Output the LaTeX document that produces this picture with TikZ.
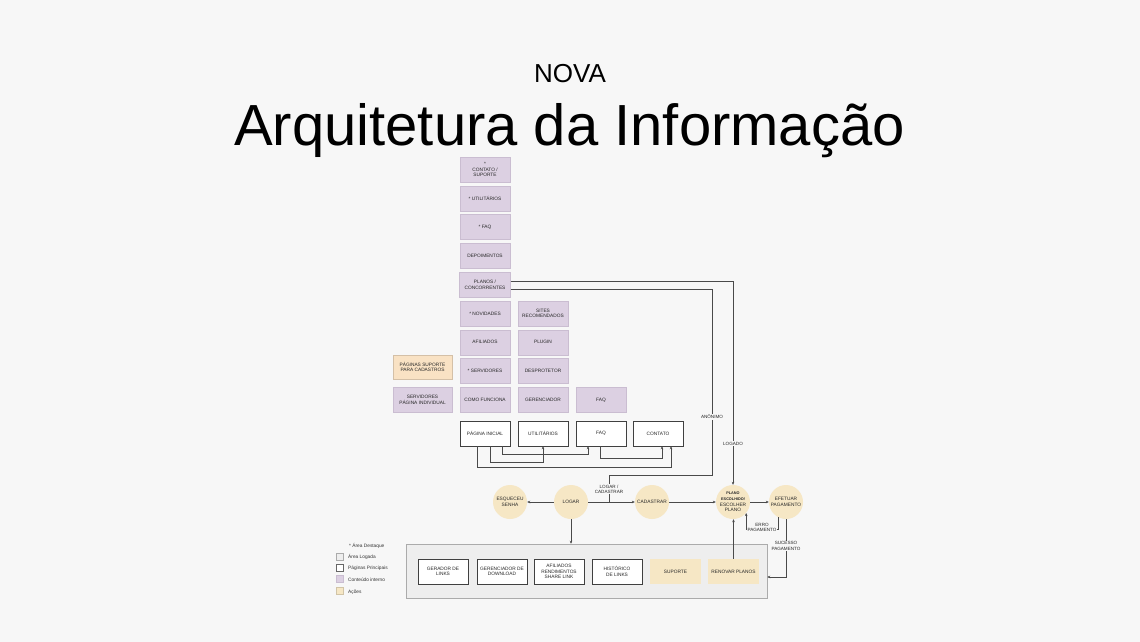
\documentclass[tikz,border=0pt]{standalone}
\usepackage{fontspec}
\setmainfont{Liberation Sans}
\usetikzlibrary{arrows.meta}
\definecolor{bg}{HTML}{F7F7F7}
\definecolor{purp}{HTML}{DCD0E2}
\definecolor{purpd}{HTML}{CABDD1}
\definecolor{orng}{HTML}{F9E2C4}
\definecolor{ylw}{HTML}{F6E7C5}
\definecolor{ln}{HTML}{4A4A4A}
\definecolor{logbg}{HTML}{EEEEEE}
\definecolor{logbd}{HTML}{ABABAB}
\begin{document}
\begin{tikzpicture}[x=1pt,y=-1pt,
 base/.style={rectangle, minimum width=50pt, minimum height=25pt, inner sep=1pt, align=center, font=\fontsize{4.8}{5.6}\selectfont, text=black!85},
 pbox/.style={base, fill=purp, draw=purpd, line width=0.4pt},
 wbox/.style={base, fill=white, draw=black!75, line width=0.5pt},
 obox/.style={base, fill=orng, draw=orng!85!black, line width=0.3pt},
 ybox/.style={base, fill=ylw},
 circ/.style={circle, fill=ylw, minimum size=34pt, inner sep=0pt, align=center, font=\fontsize{4.8}{5.6}\selectfont, text=black!85},
 conn/.style={draw=ln, line width=0.5pt},
 arr/.style={conn, -{Stealth[length=3pt,width=2.6pt]}},
 lbl/.style={fill=bg, inner sep=0.8pt, align=center, font=\fontsize{4.6}{5.2}\selectfont, text=black!85},
 lgsq/.style={rectangle, minimum width=7pt, minimum height=7pt, inner sep=0pt, line width=0.3pt},
 lgtx/.style={anchor=west, inner sep=0pt, font=\fontsize{4.8}{5.2}\selectfont, text=black!80},
]
% background / bounding box
\path[fill=bg] (0,0) rectangle (1140,642);

% title
\node[font=\fontsize{26}{30}\selectfont, anchor=base, inner sep=0pt] (nova) at (570,82) {NOVA};
\node[font=\fontsize{58}{64}\selectfont, anchor=base, inner sep=0pt] (title) at (569.5,145) {Arquitetura da Informação};

% column 1
\node[pbox] (cs)   at (485,169.5) {*\\CONTATO /\\SUPORTE};
\node[pbox] (ut1)  at (485,198.3) {* UTILITÁRIOS};
\node[pbox] (faq1) at (485,227.1) {* FAQ};
\node[pbox] (dep)  at (485,255.9) {DEPOIMENTOS};
\node[pbox, minimum width=51pt] (plan) at (485,284.7) {PLANOS /\\CONCORRENTES};
\node[pbox] (nov)  at (485,313.5) {* NOVIDADES};
\node[pbox] (afi)  at (485,342.3) {AFILIADOS};
\node[pbox] (serv) at (485,371.1) {* SERVIDORES};
\node[pbox] (como) at (485,399.9) {COMO FUNCIONA};
\node[wbox] (pin)  at (485,433.5) {PÁGINA INICIAL};

% column 2
\node[pbox] (sites) at (543,313.5) {SITES\\RECOMENDADOS};
\node[pbox] (plug)  at (543,342.3) {PLUGIN};
\node[pbox] (desp)  at (543,371.1) {DESPROTETOR};
\node[pbox] (ger)   at (543,399.9) {GERENCIADOR};
\node[wbox] (util)  at (543,433.5) {UTILITÁRIOS};

% column 3 / 4
\node[pbox] (faqp) at (601,399.9) {FAQ};
\node[wbox] (faq)  at (601,433.5) {FAQ};
\node[wbox] (cont) at (658,433.5) {CONTATO};

% left column
\node[obox, minimum width=59pt, minimum height=24pt] (pgsup) at (422.5,367) {PÁGINAS SUPORTE\\PARA CADASTROS};
\node[pbox, minimum width=59pt] (servind) at (422.5,399.9) {SERVIDORES\\PÁGINA INDIVIDUAL};

% page connectors
\draw[arr] ([xshift=17pt]pin.south) -- ++(0,8) -| ([xshift=-13pt]faq.south);
\draw[arr] ([xshift=5pt]pin.south) -- ++(0,16) -| (util.south);
\draw[arr] ([xshift=-1pt]faq.south) -- ++(0,12) -| ([xshift=4pt]cont.south);
\draw[arr] ([xshift=-8pt]pin.south) -- ++(0,21) -| ([xshift=13pt]cont.south);

% circles
\node[circ] (esq)   at (510,502) {ESQUECEU\\SENHA};
\node[circ] (logar) at (571,502) {LOGAR};
\node[circ] (cad)   at (652,502) {CADASTRAR};
\node[circ] (plano) at (733,502) {{\fontsize{3.8}{4.4}\selectfont\bfseries PLANO}\\{\fontsize{3.8}{4.4}\selectfont\bfseries ESCOLHIDO/}\\ESCOLHER\\PLANO};
\node[circ] (efet)  at (786,502) {EFETUAR\\PAGAMENTO};

% logged area
\node[rectangle, fill=logbg, draw=logbd, line width=0.5pt, minimum width=361pt, minimum height=54pt, inner sep=0pt] (big) at (586.5,571) {};
\node[wbox] (gerl) at (443,571.5) {GERADOR DE\\LINKS};
\node[wbox] (gdl)  at (502,571.5) {GERENCIADOR DE\\DOWNLOAD};
\node[wbox] (afil) at (559,571.5) {AFILIADOS\\RENDIMENTOS\\SHARE LINK};
\node[wbox] (hist) at (617,571.5) {HISTÓRICO\\DE LINKS};
\node[ybox, minimum width=51pt] (sup) at (675.5,571.5) {SUPORTE};
\node[ybox, minimum width=51pt] (ren) at (733.5,571.5) {RENOVAR PLANOS};

% flow connectors
\coordinate (t1) at (712,475);
\coordinate (j) at (609,502);
\coordinate (ey) at (0,529.5);
\draw[arr] ([yshift=3.5pt]plan.east) -| (plano.north);
\draw[conn] ([yshift=-4.5pt]plan.east) -| (t1) -| (j);
\draw[arr] (logar) -- (esq);
\draw[arr] (logar) -- (cad);
\draw[arr] (cad) -- (plano);
\draw[arr] (plano) -- (efet);
\draw[arr] (efet.-118) -- (efet.-118 |- ey) -| (plano.-40);
\draw[arr] (efet.south) |- ([yshift=-6pt]big.east);
\draw[arr] (logar.south) -- (logar.south |- big.north);
\draw[arr] (ren.north) -- (ren.north |- plano.south);

% labels
\node[lbl] (lanon) at (712,417) {ANÔNIMO};
\node[lbl] (llog) at (733,443.5) {LOGADO};
\node[lbl] (llc) at (609,489) {LOGAR /\\CADASTRAR};
\node[lbl] (lerro) at (762,527.5) {ERRO\\PAGAMENTO};
\node[lbl] (lsuc) at (786,546) {SUCESSO\\PAGAMENTO};

% legend
\node[lgtx] (lg0) at (349,546) {* Área Destaque};
\node[lgsq, fill=logbg, draw=logbd] (sq1) at (340,556.5) {};
\node[lgtx] (lg1) at (348,557) {Área Logada};
\node[lgsq, fill=white, draw=black!60] (sq2) at (340,567.5) {};
\node[lgtx] (lg2) at (348,568.5) {Páginas Principais};
\node[lgsq, fill=purp, draw=purpd] (sq3) at (340,579) {};
\node[lgtx] (lg3) at (348,580) {Conteúdo interno};
\node[lgsq, fill=ylw, draw=ylw!85!black] (sq4) at (340,591) {};
\node[lgtx] (lg4) at (348,592) {Ações};
\end{tikzpicture}
\end{document}
